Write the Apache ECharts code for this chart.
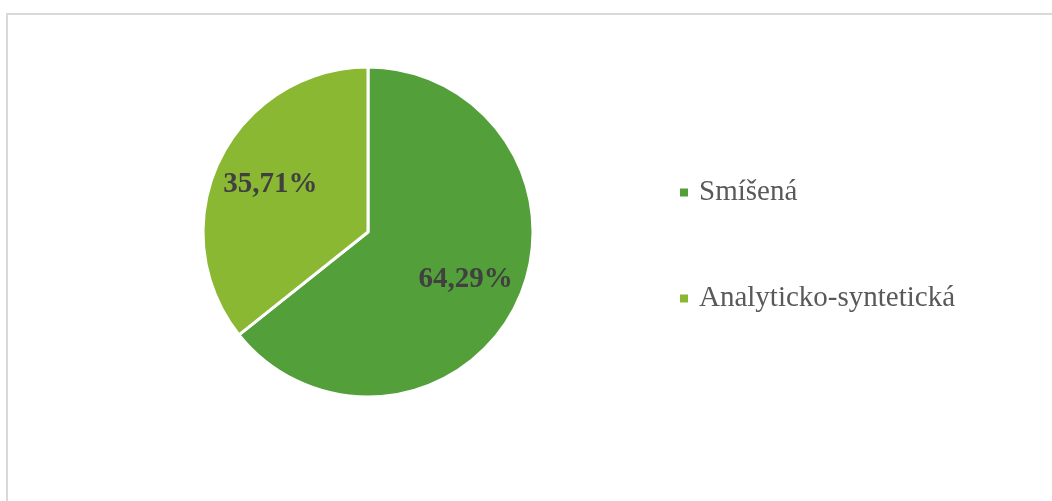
<!DOCTYPE html>
<html>
<head>
<meta charset="utf-8">
<style>
  html, body { margin: 0; padding: 0; background: #ffffff; }
  #chart { width: 1052px; height: 501px; }
</style>
<script src="https://cdn.jsdelivr.net/npm/echarts@6/dist/echarts.min.js"></script>
</head>
<body>
<div id="chart"></div>
<script>
// Share of reading methods
const categories = ['Smíšená', 'Analyticko-syntetická'];
const values = [64.29, 35.71];
const colors = ['#539F3A', '#8BB833'];

const pieData = categories.map((name, i) => ({
  name: name,
  value: values[i],
  itemStyle: { color: colors[i] }
}));

const labelFont = {
  fontFamily: '"Liberation Serif", "Times New Roman", serif',
  fontWeight: 'bold',
  fontSize: 29,
  color: '#404040'
};

const chart = echarts.init(document.getElementById('chart'), null, { renderer: 'canvas' });

chart.setOption({
  animation: false,
  backgroundColor: '#ffffff',
  graphic: [{
    type: 'rect',
    silent: true,
    shape: { x: 7, y: 14, width: 1100, height: 600 },
    style: { fill: 'none', stroke: '#d9d9d9', lineWidth: 2 }
  }],
  legend: {
    orient: 'vertical',
    left: 680,
    top: 178,
    padding: 0,
    data: categories,
    icon: 'rect',
    itemWidth: 8,
    itemHeight: 8,
    itemGap: 77,
    itemStyle: { borderWidth: 0 },
    textStyle: {
      fontFamily: '"Liberation Serif", "Times New Roman", serif',
      fontSize: 29,
      color: '#595959',
      padding: [0, 0, 0, 6]
    }
  },
  series: [
    {
      // the visible slices
      type: 'pie',
      center: [368, 232],
      radius: [0, 165],
      startAngle: 90,
      clockwise: true,
      silent: true,
      itemStyle: { borderColor: '#ffffff', borderWidth: 3 },
      label: { show: false },
      labelLine: { show: false },
      data: pieData
    },
    {
      // transparent ring that carries the percentage labels further out
      type: 'pie',
      center: [368, 232],
      radius: [46, 165],
      startAngle: 90,
      clockwise: true,
      silent: true,
      itemStyle: { color: 'transparent', borderWidth: 0 },
      label: Object.assign({
        show: true,
        position: 'inside',
        formatter: p => p.value.toFixed(2).replace('.', ',') + '%'
      }, labelFont),
      labelLine: { show: false },
      data: categories.map((name, i) => ({ name: name, value: values[i] }))
    }
  ]
});
</script>
</body>
</html>
